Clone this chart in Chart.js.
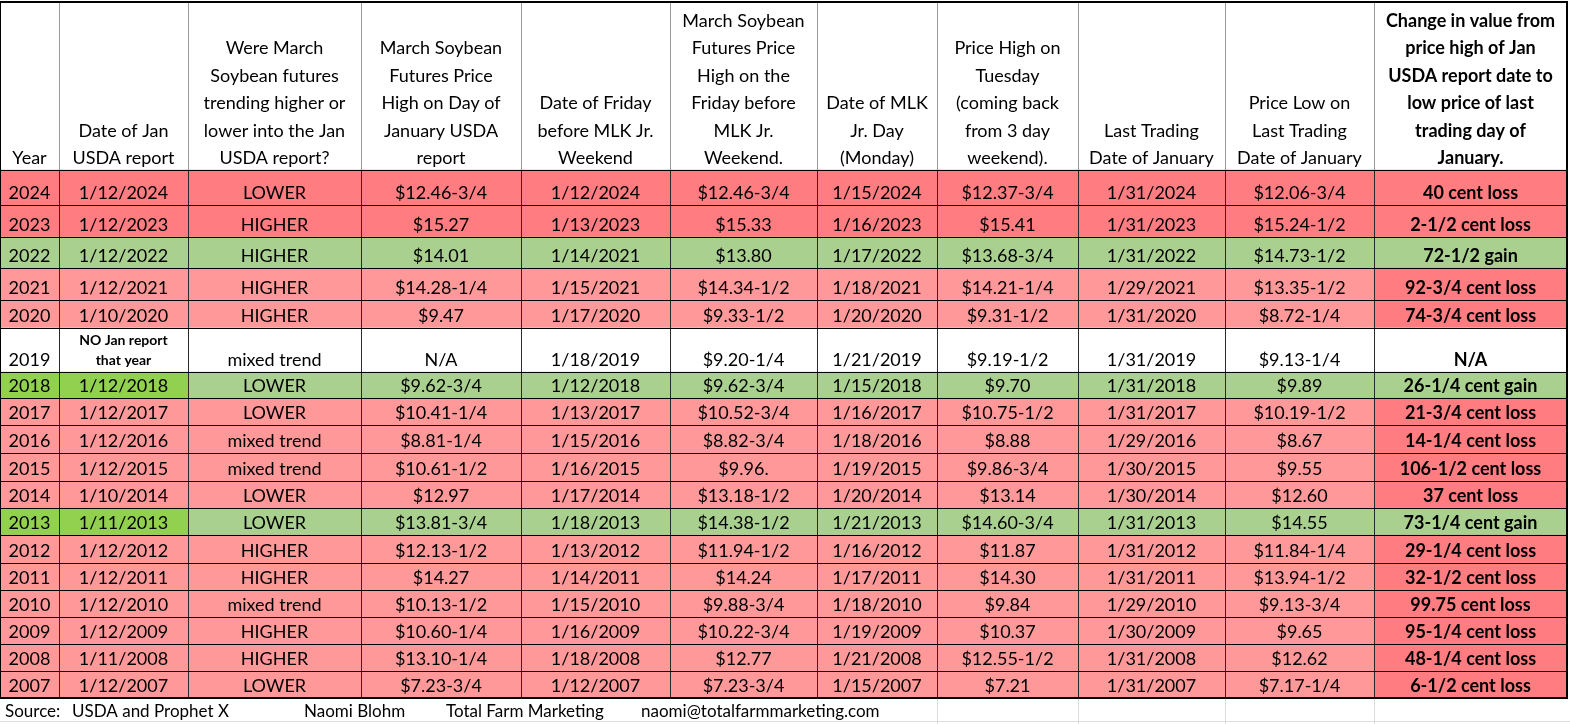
<!DOCTYPE html>
<html>
<head>
<meta charset="utf-8">
<script src="https://cdn.jsdelivr.net/npm/chart.js@4.4.1/dist/chart.umd.min.js"></script>
<style>
  html, body { margin: 0; padding: 0; background: #ffffff; }
  #wrap { width: 1570px; height: 724px; }
</style>
</head>
<body>
<div id="wrap"><canvas id="c" width="1570" height="724"></canvas></div>
<script>
// ---------------- DATA ----------------
const headers = [
  ["Year"],
  ["Date of Jan", "USDA report"],
  ["Were March", "Soybean futures", "trending higher or", "lower into the Jan", "USDA report?"],
  ["March Soybean", "Futures Price", "High on Day of", "January USDA", "report"],
  ["Date of Friday", "before MLK Jr.", "Weekend"],
  ["March Soybean", "Futures Price", "High on the", "Friday before", "MLK Jr.", "Weekend."],
  ["Date of MLK", "Jr. Day", "(Monday)"],
  ["Price High on", "Tuesday", "(coming back", "from 3 day", "weekend)."],
  ["Last Trading", "Date of January"],
  ["Price Low on", "Last Trading", "Date of January"],
  ["Change in value from", "price high of Jan", "USDA report date to", "low price of last", "trading day of", "January."]
];

const years = ["2024","2023","2022","2021","2020","2019","2018","2017","2016","2015","2014","2013","2012","2011","2010","2009","2008","2007"];

const reportDates = ["1/12/2024","1/12/2023","1/12/2022","1/12/2021","1/10/2020","NO Jan report\nthat year","1/12/2018","1/12/2017","1/12/2016","1/12/2015","1/10/2014","1/11/2013","1/12/2012","1/12/2011","1/12/2010","1/12/2009","1/11/2008","1/12/2007"];

const trends = ["LOWER","HIGHER","HIGHER","HIGHER","HIGHER","mixed trend","LOWER","LOWER","mixed trend","mixed trend","LOWER","LOWER","HIGHER","HIGHER","mixed trend","HIGHER","HIGHER","LOWER"];

const highOnReportDay = ["$12.46-3/4","$15.27","$14.01","$14.28-1/4","$9.47","N/A","$9.62-3/4","$10.41-1/4","$8.81-1/4","$10.61-1/2","$12.97","$13.81-3/4","$12.13-1/2","$14.27","$10.13-1/2","$10.60-1/4","$13.10-1/4","$7.23-3/4"];

const fridayDates = ["1/12/2024","1/13/2023","1/14/2021","1/15/2021","1/17/2020","1/18/2019","1/12/2018","1/13/2017","1/15/2016","1/16/2015","1/17/2014","1/18/2013","1/13/2012","1/14/2011","1/15/2010","1/16/2009","1/18/2008","1/12/2007"];

const fridayHighs = ["$12.46-3/4","$15.33","$13.80","$14.34-1/2","$9.33-1/2","$9.20-1/4","$9.62-3/4","$10.52-3/4","$8.82-3/4","$9.96.","$13.18-1/2","$14.38-1/2","$11.94-1/2","$14.24","$9.88-3/4","$10.22-3/4","$12.77","$7.23-3/4"];

const mlkDates = ["1/15/2024","1/16/2023","1/17/2022","1/18/2021","1/20/2020","1/21/2019","1/15/2018","1/16/2017","1/18/2016","1/19/2015","1/20/2014","1/21/2013","1/16/2012","1/17/2011","1/18/2010","1/19/2009","1/21/2008","1/15/2007"];

const tuesdayHighs = ["$12.37-3/4","$15.41","$13.68-3/4","$14.21-1/4","$9.31-1/2","$9.19-1/2","$9.70","$10.75-1/2","$8.88","$9.86-3/4","$13.14","$14.60-3/4","$11.87","$14.30","$9.84","$10.37","$12.55-1/2","$7.21"];

const lastTradingDates = ["1/31/2024","1/31/2023","1/31/2022","1/29/2021","1/31/2020","1/31/2019","1/31/2018","1/31/2017","1/29/2016","1/30/2015","1/30/2014","1/31/2013","1/31/2012","1/31/2011","1/29/2010","1/30/2009","1/31/2008","1/31/2007"];

const lastTradingLows = ["$12.06-3/4","$15.24-1/2","$14.73-1/2","$13.35-1/2","$8.72-1/4","$9.13-1/4","$9.89","$10.19-1/2","$8.67","$9.55","$12.60","$14.55","$11.84-1/4","$13.94-1/2","$9.13-3/4","$9.65","$12.62","$7.17-1/4"];

const changes = ["40 cent loss","2-1/2 cent loss","72-1/2 gain","92-3/4 cent loss","74-3/4 cent loss","N/A","26-1/4 cent gain","21-3/4 cent loss","14-1/4 cent loss","106-1/2 cent loss","37 cent loss","73-1/4 cent gain","29-1/4 cent loss","32-1/2 cent loss","99.75 cent loss","95-1/4 cent loss","48-1/4 cent loss","6-1/2 cent loss"];

// row outcome category: recentLoss, loss, gain, gainMarked (year/date highlighted), none
const outcomes = ["recentLoss","recentLoss","gain","loss","loss","none","gainMarked","loss","loss","loss","loss","gainMarked","loss","loss","loss","loss","loss","loss"];

const footerParts = ["Source:", "USDA and Prophet X", "Naomi Blohm", "Total Farm Marketing", "naomi@totalfarmmarketing.com"];

// ---------------- LAYOUT / STYLE ----------------
const COL_EDGES = [0, 59, 188, 361, 521, 670, 817, 937, 1078, 1225, 1374, 1567];
const ROW_EDGES = [2, 170, 205, 237, 268, 300, 328, 372, 398, 425, 453, 481, 508, 535, 563, 590, 617, 644, 671, 698];
const FOOTER_X = [5, 72, 304, 446, 641];
const FONT = "Lato, 'Open Sans', sans-serif";

const C_DARKRED = "#ff7c80";
const C_RED = "#ff9999";
const C_GREEN = "#a9d08e";
const C_BRIGHT = "#92d050";
const C_WHITE = "#ffffff";

const columns = [years, reportDates, trends, highOnReportDay, fridayDates, fridayHighs, mlkDates, tuesdayHighs, lastTradingDates, lastTradingLows, changes];
const LAST = columns.length - 1;

function cellColor(row, col) {
  const o = outcomes[row];
  if (o === "none") return C_WHITE;
  if (o === "recentLoss") return C_DARKRED;
  if (o === "loss") return col === LAST ? C_DARKRED : C_RED;
  if (o === "gain") return C_GREEN;
  if (o === "gainMarked") return col <= 1 ? C_BRIGHT : C_GREEN;
  return C_WHITE;
}

const datasets = columns.map((colValues, c) => {
  const rowsAll = [headers[c]].concat(colValues);
  return {
    label: headers[c].join(" "),
    data: rowsAll.map((_, r) => ({
      x: (COL_EDGES[c] + COL_EDGES[c + 1]) / 2,
      y: [ROW_EDGES[r], ROW_EDGES[r + 1]]
    })),
    texts: rowsAll,
    backgroundColor: rowsAll.map((_, r) => r === 0 ? C_WHITE : cellColor(r - 1, c)),
    borderWidth: 0,
    barThickness: COL_EDGES[c + 1] - COL_EDGES[c],
    grouped: false
  };
});

const tablePlugin = {
  id: "tableText",
  afterDatasetsDraw(chart) {
    const ctx = chart.ctx;
    const xs = chart.scales.x, ys = chart.scales.y;
    const px = v => Math.round(xs.getPixelForValue(v));
    const py = v => Math.round(ys.getPixelForValue(v));
    ctx.save();

    // faint sheet gridlines below table
    ctx.fillStyle = "#dcdcdc";
    [937, 1078, 1225, 1374].forEach(e => ctx.fillRect(px(e), py(ROW_EDGES[ROW_EDGES.length - 1]), 1, 30));
    ctx.fillRect(0, 721, 1570, 1);

    const left = px(COL_EDGES[0]), right = px(COL_EDGES[COL_EDGES.length - 1]);
    const hTop = py(ROW_EDGES[0]), hBot = py(ROW_EDGES[1]), bBot = py(ROW_EDGES[ROW_EDGES.length - 1]);

    // vertical lines
    COL_EDGES.forEach((e, i) => {
      const x = px(e);
      const outer = (i === 0 || i === COL_EDGES.length - 1);
      ctx.fillStyle = outer ? "#000000" : "#9a9a9a";
      ctx.fillRect(outer && i > 0 ? x - 1 : x, hTop, outer && i > 0 ? 2 : 1, hBot - hTop);
      ctx.fillStyle = outer ? "#000000" : "#2a2a2a";
      ctx.fillRect(outer && i > 0 ? x - 1 : x, hBot, outer && i > 0 ? 2 : 1, bBot - hBot);
    });
    // horizontal lines
    ctx.fillStyle = "#000000";
    ROW_EDGES.forEach((e, i) => {
      const y = py(e);
      if (i === 0) ctx.fillRect(left, y - 1, right - left + 1, 2);
      else if (i === ROW_EDGES.length - 1) ctx.fillRect(left, y - 1, right - left + 1, 2);
      else ctx.fillRect(left, y, right - left, 1);
    });

    // text
    ctx.fillStyle = "#000000";
    ctx.textAlign = "center";
    ctx.textBaseline = "alphabetic";
    chart.data.datasets.forEach((ds, c) => {
      const meta = chart.getDatasetMeta(c);
      meta.data.forEach((el, r) => {
        const p = el.getProps(["x", "y", "base"], true);
        const bottom = Math.max(p.y, p.base);
        const bold = (c === LAST);
        if (r === 0) {
          const lines = ds.texts[0];
          ctx.font = (bold ? "bold " : "") + "18px " + FONT;
          lines.forEach((ln, k) => {
            const fromBottom = lines.length - 1 - k;
            ctx.fillText(ln, p.x, bottom - 6 - fromBottom * 27.5);
          });
        } else {
          const t = ds.texts[r];
          if (t.indexOf("\n") >= 0) {
            const lines = t.split("\n");
            ctx.font = "bold 14px " + FONT;
            lines.forEach((ln, k) => {
              const fromBottom = lines.length - 1 - k;
              ctx.fillText(ln, p.x, bottom - 7 - fromBottom * 20);
            });
          } else {
            ctx.font = (bold ? "bold " : "") + "18px " + FONT;
            ctx.fillText(t, p.x, bottom - 6);
          }
        }
      });
    });

    // footer
    ctx.textAlign = "left";
    ctx.font = "17px " + FONT;
    footerParts.forEach((t, i) => ctx.fillText(t, FOOTER_X[i], 717));
    ctx.restore();
  }
};

new Chart(document.getElementById("c"), {
  type: "bar",
  data: { datasets },
  options: {
    responsive: false,
    animation: false,
    devicePixelRatio: 1,
    layout: { padding: 0 },
    plugins: { legend: { display: false }, tooltip: { enabled: false }, title: { display: false } },
    scales: {
      x: { type: "linear", min: 0, max: 1570, display: false, offset: false },
      y: { type: "linear", min: 0, max: 724, reverse: true, display: false, offset: false }
    }
  },
  plugins: [tablePlugin]
});
</script>
</body>
</html>
